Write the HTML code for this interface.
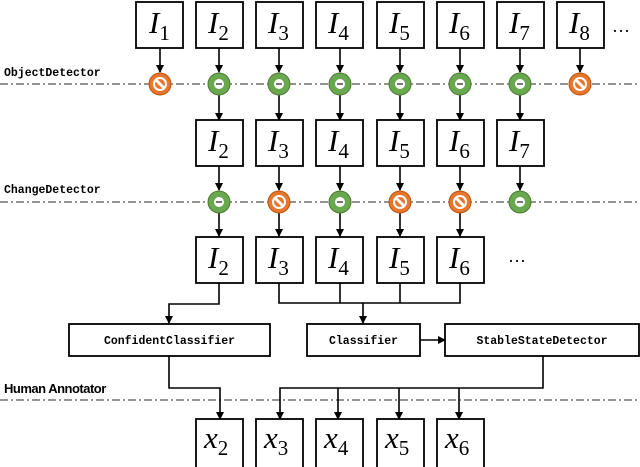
<!DOCTYPE html>
<html><head><meta charset="utf-8"><style>
html,body{margin:0;padding:0;background:#fff;}
svg{display:block;}
.m{font-family:"Liberation Serif",serif;font-style:italic;font-size:31px;}
.s{font-family:"Liberation Serif",serif;font-size:21px;font-style:normal;}
.c{font-family:"Liberation Mono",monospace;font-size:11.5px;font-weight:bold;}
</style></head><body>
<svg width="640" height="467" viewBox="0 0 640 467" xmlns="http://www.w3.org/2000/svg">
<defs>
<marker id="a" markerWidth="8" markerHeight="8" refX="7" refY="4" orient="auto" markerUnits="userSpaceOnUse">
<path d="M0,0 L8,4 L0,8 Z" fill="#000"/></marker>
<g id="g"><circle r="11" fill="#6aa84f" stroke="#4a7a30" stroke-width="1"/><circle r="5" fill="#fff"/><rect x="-3" y="-0.8" width="6" height="1.6" fill="#555"/></g>
<g id="o"><circle r="11" fill="#e8772e" stroke="#b85410" stroke-width="1"/><circle r="6" fill="none" stroke="#fff" stroke-width="2"/><line x1="-4.5" y1="-4.5" x2="4.5" y2="4.5" stroke="#fff" stroke-width="3"/></g>
</defs>
<g stroke="#555" stroke-width="1.2" stroke-dasharray="8,3,2,3" fill="none">
<line x1="0" y1="84" x2="640" y2="84"/>
<line x1="0" y1="202" x2="640" y2="202"/>
<line x1="0" y1="400" x2="640" y2="400"/>
</g>
<g class="c" fill="#000">
<text x="4" y="76">ObjectDetector</text>
<text x="4" y="193">ChangeDetector</text>
</g>
<text x="4" y="393" font-family="Liberation Sans,sans-serif" font-size="13" font-weight="bold" letter-spacing="-0.5">Human Annotator</text>

<g stroke="#000" stroke-width="1.6" fill="none">
<line x1="160" y1="48" x2="160" y2="72" marker-end="url(#a)"/>
<line x1="219" y1="48" x2="219" y2="72" marker-end="url(#a)"/>
<line x1="279" y1="48" x2="279" y2="72" marker-end="url(#a)"/>
<line x1="340" y1="48" x2="340" y2="72" marker-end="url(#a)"/>
<line x1="400" y1="48" x2="400" y2="72" marker-end="url(#a)"/>
<line x1="460" y1="48" x2="460" y2="72" marker-end="url(#a)"/>
<line x1="520" y1="48" x2="520" y2="72" marker-end="url(#a)"/>
<line x1="580" y1="48" x2="580" y2="72" marker-end="url(#a)"/>
<line x1="219" y1="95" x2="219" y2="120" marker-end="url(#a)"/>
<line x1="279" y1="95" x2="279" y2="120" marker-end="url(#a)"/>
<line x1="340" y1="95" x2="340" y2="120" marker-end="url(#a)"/>
<line x1="400" y1="95" x2="400" y2="120" marker-end="url(#a)"/>
<line x1="460" y1="95" x2="460" y2="120" marker-end="url(#a)"/>
<line x1="520" y1="95" x2="520" y2="120" marker-end="url(#a)"/>
<line x1="219" y1="166" x2="219" y2="190" marker-end="url(#a)"/>
<line x1="279" y1="166" x2="279" y2="190" marker-end="url(#a)"/>
<line x1="340" y1="166" x2="340" y2="190" marker-end="url(#a)"/>
<line x1="400" y1="166" x2="400" y2="190" marker-end="url(#a)"/>
<line x1="460" y1="166" x2="460" y2="190" marker-end="url(#a)"/>
<line x1="520" y1="166" x2="520" y2="190" marker-end="url(#a)"/>
<line x1="219" y1="213" x2="219" y2="236" marker-end="url(#a)"/>
<line x1="279" y1="213" x2="279" y2="236" marker-end="url(#a)"/>
<line x1="340" y1="213" x2="340" y2="236" marker-end="url(#a)"/>
<line x1="400" y1="213" x2="400" y2="236" marker-end="url(#a)"/>
<line x1="460" y1="213" x2="460" y2="236" marker-end="url(#a)"/>
<polyline points="219,283 219,304 169,304 169,323" marker-end="url(#a)"/>
<polyline points="279,283 279,303 460,303 460,283"/>
<line x1="340" y1="283" x2="340" y2="303"/>
<line x1="400" y1="283" x2="400" y2="303"/>
<line x1="363" y1="303" x2="363" y2="323" marker-end="url(#a)"/>
<line x1="420" y1="340" x2="445" y2="340" marker-end="url(#a)"/>
<polyline points="169,356 169,388 220,388 220,419" marker-end="url(#a)"/>
<polyline points="543,356 543,388 280,388 280,419" marker-end="url(#a)"/>
<line x1="338" y1="388" x2="338" y2="419" marker-end="url(#a)"/>
<line x1="399" y1="388" x2="399" y2="419" marker-end="url(#a)"/>
<line x1="459" y1="388" x2="459" y2="419" marker-end="url(#a)"/>
</g>

<g>
<use href="#o" x="160" y="84"/><use href="#g" x="219" y="84"/><use href="#g" x="279" y="84"/><use href="#g" x="340" y="84"/>
<use href="#g" x="400" y="84"/><use href="#g" x="460" y="84"/><use href="#g" x="520" y="84"/><use href="#o" x="580" y="84"/>
<use href="#g" x="219" y="202"/><use href="#o" x="279" y="202"/><use href="#g" x="340" y="202"/>
<use href="#o" x="400" y="202"/><use href="#o" x="460" y="202"/><use href="#g" x="520" y="202"/>
</g>

<g fill="#fff" stroke="#000" stroke-width="1.8">
<rect x="136" y="2" width="47" height="46"/><rect x="196" y="2" width="47" height="46"/><rect x="256" y="2" width="47" height="46"/>
<rect x="316" y="2" width="47" height="46"/><rect x="377" y="2" width="47" height="46"/><rect x="437" y="2" width="47" height="46"/>
<rect x="497" y="2" width="47" height="46"/><rect x="557" y="2" width="47" height="46"/>
<rect x="196" y="120" width="47" height="46"/><rect x="256" y="120" width="47" height="46"/><rect x="316" y="120" width="47" height="46"/>
<rect x="377" y="120" width="47" height="46"/><rect x="437" y="120" width="47" height="46"/><rect x="497" y="120" width="47" height="46"/>
<rect x="196" y="237" width="47" height="46"/><rect x="256" y="237" width="47" height="46"/><rect x="316" y="237" width="47" height="46"/>
<rect x="377" y="237" width="47" height="46"/><rect x="437" y="237" width="47" height="46"/>
<rect x="69" y="324" width="201" height="32"/><rect x="307" y="324" width="113" height="32"/><rect x="445" y="324" width="194" height="32"/>
<rect x="196" y="419" width="47" height="50"/><rect x="256" y="419" width="47" height="50"/><rect x="316" y="419" width="47" height="50"/>
<rect x="377" y="419" width="47" height="50"/><rect x="437" y="419" width="47" height="50"/>
</g>

<g class="m" fill="#000">
<text x="149" y="33">I<tspan class="s" dy="7">1</tspan></text>
<text x="208" y="33">I<tspan class="s" dy="7">2</tspan></text>
<text x="268" y="33">I<tspan class="s" dy="7">3</tspan></text>
<text x="328" y="33">I<tspan class="s" dy="7">4</tspan></text>
<text x="389" y="33">I<tspan class="s" dy="7">5</tspan></text>
<text x="449" y="33">I<tspan class="s" dy="7">6</tspan></text>
<text x="509" y="33">I<tspan class="s" dy="7">7</tspan></text>
<text x="569" y="33">I<tspan class="s" dy="7">8</tspan></text>
<text x="208" y="151">I<tspan class="s" dy="7">2</tspan></text>
<text x="268" y="151">I<tspan class="s" dy="7">3</tspan></text>
<text x="328" y="151">I<tspan class="s" dy="7">4</tspan></text>
<text x="389" y="151">I<tspan class="s" dy="7">5</tspan></text>
<text x="449" y="151">I<tspan class="s" dy="7">6</tspan></text>
<text x="509" y="151">I<tspan class="s" dy="7">7</tspan></text>
<text x="208" y="268">I<tspan class="s" dy="7">2</tspan></text>
<text x="268" y="268">I<tspan class="s" dy="7">3</tspan></text>
<text x="328" y="268">I<tspan class="s" dy="7">4</tspan></text>
<text x="389" y="268">I<tspan class="s" dy="7">5</tspan></text>
<text x="449" y="268">I<tspan class="s" dy="7">6</tspan></text>
<text x="204" y="448">x<tspan class="s" dy="7">2</tspan></text>
<text x="264" y="448">x<tspan class="s" dy="7">3</tspan></text>
<text x="324" y="448">x<tspan class="s" dy="7">4</tspan></text>
<text x="385" y="448">x<tspan class="s" dy="7">5</tspan></text>
<text x="445" y="448">x<tspan class="s" dy="7">6</tspan></text>
</g>
<text x="612" y="32" font-family="Liberation Serif,serif" font-size="18">…</text>
<text x="508" y="262" font-family="Liberation Serif,serif" font-size="18">…</text>

<g class="c" fill="#000" text-anchor="middle">
<text x="169.5" y="344">ConfidentClassifier</text>
<text x="363.5" y="344">Classifier</text>
<text x="542" y="344">StableStateDetector</text>
</g>
</svg>
</body></html>
